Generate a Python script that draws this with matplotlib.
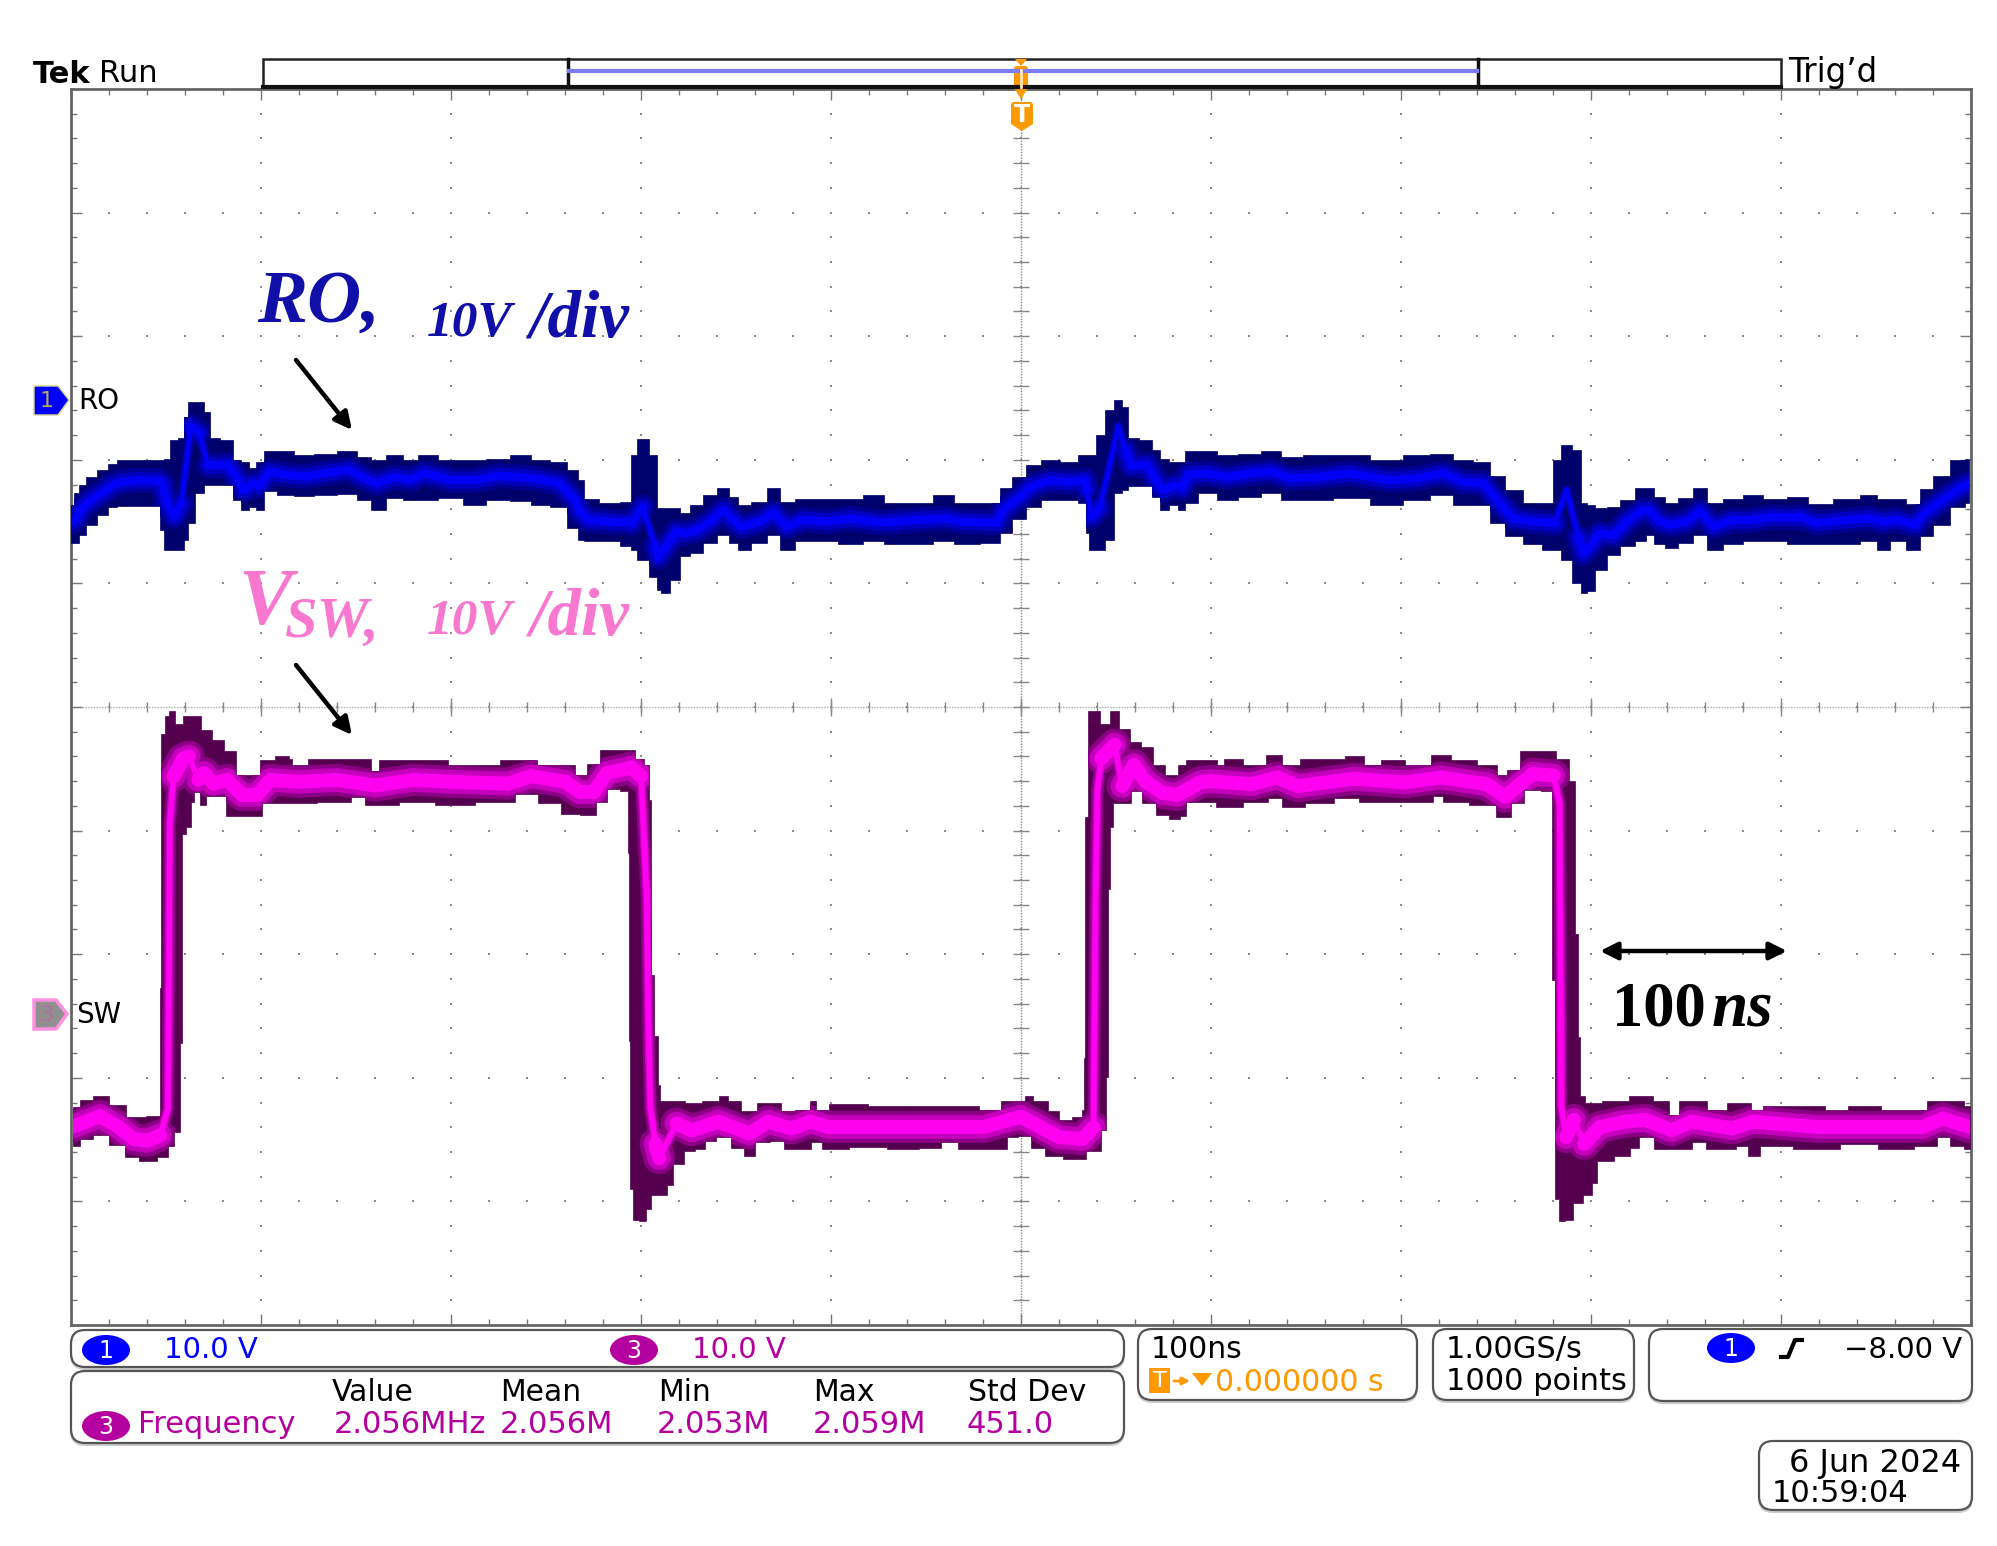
#!/usr/bin/env python
import numpy as np
import matplotlib
matplotlib.use("Agg")
import matplotlib.pyplot as plt
from matplotlib.collections import LineCollection
from matplotlib.patches import FancyBboxPatch, Polygon, Ellipse, Rectangle

# channel 1 (RO) envelope, volts vs ns
ro_t = [-500, -497, -495, -489.5, -483, -478, -474, -465, -454, -452, -450, -445.6, -442, -439.5, -437, -432.5,
        -428, -425.4, -417.5, -412, -409, -404, -401, -395.6, -388, -377, -366.7, -353.5, -345.6, -338.6, -330,
        -321, -314, -300, -287.7, -275.4, -263, -252.6, -243, -234.7, -232, -227.7, -216.3, -205.8, -204.9, -199,
        -192.6, -190.8, -188.2, -181.2, -177.7, -170.7, -163.7, -156.6, -150.5, -147, -137.3, -130.3, -123.3,
        -114.5, -102.2, -90, -76.8, -67, -52.2, -40, -30.3, -12.8, -9.3, -0.5, 5.6, 15.3, 25.8, 33.7, 34.6, 37.2,
        41.6, 46.9, 51.3, 54.8, 58.3, 66.2, 71.4, 75, 81, 84.6, 88.1, 97.8, 108.3, 120.6, 132, 141.6, 155.6, 173.2,
        194.2, 208.3, 222.3, 232.8, 243.4, 250.4, 259.1, 269.6, 279.3, 281, 287.2, 293.3, 296, 299.5, 304.7, 311.8,
        318.8, 327.5, 330.2, 336.3, 341.6, 350.3, 357.4, 364.4, 374.9, 385.4, 396, 410, 418.8, 436.3, 446.8, 453.9,
        460.9, 470.5, 475.8, 483.7, 494.2, 499.1]
ro_top = [-8.65, -7.7, -7.0, -6.4, -5.8, -5.3, -5.0, -5.0, -5.0, -5.0, -4.9, -3.4, -3.25, -1.5, -0.3, -0.3,
          -1.1, -3.25, -3.4, -5.0, -5.15, -5.7, -5.15, -4.3, -4.3, -4.6, -4.5, -4.25, -4.75, -5.0, -4.6,
          -5.0, -4.6, -5.0, -5.0, -4.9, -4.6, -5.0, -5.2, -5.8, -6.6, -8.2, -8.5, -8.4, -4.6, -3.3,
          -4.6, -8.9, -8.9, -8.9, -9.3, -8.65, -7.85, -7.3, -8.0, -8.65, -8.4, -7.3, -8.4,
          -8.2, -8.2, -8.2, -7.85, -8.5, -8.5, -7.85, -8.5, -8.5, -7.3, -6.4, -5.4, -5.0, -5.15, -4.6, -4.6, -4.6,
          -3.0, -0.97, -0.2, -0.7, -3.25, -3.4, -4.2, -4.9, -5.15, -5.15, -4.3, -4.3, -4.6, -4.5, -4.3, -4.75, -4.6, -4.6,
          -5.0, -4.6, -4.5, -5.0, -5.15, -6.35, -7.45, -8.5, -8.5, -5.0, -3.8, -4.2, -8.5, -8.65, -8.9, -8.8,
          -8.25, -7.3, -7.3, -8.0, -8.5, -8.1, -7.3, -8.5, -8.2, -7.85, -8.2, -8.0, -8.55, -8.2, -7.85, -8.2,
          -8.2, -8.55, -7.4, -6.3, -5.05, -4.95]
ro_bot = [-11.75, -11.75, -11.1, -10.3, -9.45, -8.8, -8.75, -8.75, -8.75, -10.7, -12.3, -12.3, -12.3, -11.5, -10.1, -7.7,
          -7.05, -7.05, -7.05, -8.25, -9.05, -8.8, -9.05, -7.55, -7.85, -7.9, -7.85, -7.75, -8.25, -9.05, -8.1,
          -8.25, -8.25, -8.1, -8.65, -8.25, -8.35, -8.65, -8.8, -10.55, -11.5, -11.55, -11.55, -12.0, -12.3, -13.1,
          -14.45, -15.5, -15.8, -14.7, -12.8, -12.55, -11.75, -11.1, -11.75, -12.3, -11.75, -11.1, -12.3,
          -11.55, -11.55, -11.8, -11.55, -11.8, -11.8, -11.55, -11.8, -11.75, -10.95, -9.75, -8.8, -8.25, -8.25, -8.5, -10.95, -12.3,
          -12.3, -11.5, -7.7, -7.45, -7.15, -7.15, -8.0, -9.05, -8.65, -9.05, -8.5, -7.7, -8.25, -8.0, -7.7, -8.25, -8.25, -8.1,
          -8.65, -8.25, -7.85, -8.65, -8.65, -10.15, -11.2, -11.8, -12.3, -12.3, -13.1, -15.0, -15.8, -15.65, -13.9, -12.7,
          -12.0, -11.6, -11.1, -11.8, -12.15, -11.75, -11.1, -12.3, -11.8, -11.55, -11.55, -11.8, -11.8, -11.8, -11.55, -12.3,
          -11.55, -12.3, -11.2, -10.3, -8.8, -8.5]
ro_mid = [-10.1, -9.7, -9.05, -8.25, -7.6, -7.05, -6.8, -6.65, -6.7, -6.9, -8.25, -9.6, -8.5, -5.55, -2.3, -2.85,
          -5.4, -5.4, -5.4, -6.6, -7.45, -6.9, -7.15, -5.95, -6.2, -6.35, -6.1, -5.8, -6.5, -6.9, -6.4,
          -6.6, -6.1, -6.65, -6.65, -6.3, -6.4, -6.6, -6.9, -8.25, -9.2, -9.85, -10.0, -10.0, -10.15, -8.8,
          -12.0, -12.85, -12.3, -10.8, -10.95, -10.7, -10.0, -9.05, -10.0, -10.4, -10.0, -9.3, -10.4,
          -9.85, -10.0, -9.75, -10.0, -10.0, -9.85, -9.75, -10.0, -10.1, -9.05, -8.0, -7.15, -6.65, -6.8, -6.65, -7.45, -9.6,
          -8.8, -5.3, -2.3, -4.2, -5.5, -5.4, -6.75, -7.45, -7.05, -7.3, -6.2, -6.1, -6.4, -6.1, -5.95, -6.5, -6.4, -6.1,
          -6.65, -6.5, -6.1, -6.8, -6.9, -8.25, -9.75, -10.0, -10.1, -10.1, -7.45, -11.2, -12.55, -12.0, -10.95, -11.1,
          -10.0, -9.05, -9.05, -10.0, -10.25, -10.0, -9.2, -10.4, -9.85, -9.85, -9.6, -9.6, -10.1, -9.85, -9.75, -10.0,
          -9.85, -10.25, -9.3, -8.4, -7.3, -6.9]

# channel 3 (SW) envelope, volts vs ns
sw_top_t = [-499.2, -491.7, -484.7, -475.3, -467, -453.6, -453, -451.8, -449.4, -447, -443.5, -438.8, -434.1, -429.4,
            -422.4, -416.5, -409.5, -402.4, -398.9, -386, -384.8, -382.4, -376.6, -374.2, -343.7, -340.2, -335.5,
            -303.7, -299, -275.5, -273.2, -256.7, -253.2, -238, -232, -225, -218, -206.2, -200.3, -196.4, -195.4,
            -194.4, -191.4, -191, -189.4, -179.3, -174.3, -161.2, -157.2, -151.1, -144.1, -134, -128, -124.9, -112.8,
            -109.8, -105.8, -96.7, -64.5, -50.4, -32.3, -12.1, -9.1, 1, 3, 10, 18.1, 22.1, 31.2, 32.6, 33.2, 34.2,
            35.8, 39.2, 44.3, 49.3, 54.3, 60.4, 66.4, 72.5, 79.5, 85.5, 87.7, 102.5, 103.9, 109.3, 124, 133.5, 141.6,
            152.4, 164.5, 176.6, 184.7, 194.1, 210.2, 221, 231.8, 248, 253.3, 258.7, 266.8, 277.6, 285.6, 291, 292.4,
            293.7, 295, 299.1, 312.6, 327.4, 338.1, 343.5, 348.9, 358.4, 363.7, 379.9, 388, 393.4, 420.3, 425.6,
            444.5, 460.7, 474.1, 479.5, 493, 499.5]
sw_top = [-7.35, -6.8, -6.5, -7.2, -8.2, -8.1, 2.3, 22.85, 24.3, 24.7, 23.6, 24.3, 24.3, 23.1,
          22.3, 21.4, 19.5, 19.5, 20.7, 21, 20.76, 20.3, 20.3, 20.76, 20.76, 19.8, 20.7,
          20.7, 20.3, 20.3, 20.7, 20.7, 20.3, 20.3, 19.5, 20.4, 21.5, 21.5, 20.8, 20.3, 17.5,
          3.3, -1.6, -5.6, -6.9, -6.9, -7, -6.9, -6.5, -6.9, -7.7, -7, -7, -7.7, -7.6,
          -6.9, -7.6, -7.15, -7.3, -7.3, -7.3, -7.6, -6.9, -6.9, -6.5, -6.9, -7.7, -8.4, -8.15, -7.6, -3.4, 16.1,
          24.7, 24.7, 23.6, 24.7, 23.2, 22.2, 21.8, 20.3, 19.5, 20.3, 20.7, 20.7, 20.3, 20.8, 20.3, 21.1, 20.3,
          20.8, 20.8, 21, 20.3, 20.7, 20.3, 21.1, 20.7, 20.3, 19.5, 19.9, 21.4, 21.45, 20.8, 19, 6.6,
          -1.7, -6.5, -7, -6.9, -6.5, -6.9, -8, -6.9, -6.9, -7.6, -7, -7.6, -7.25, -7.25, -7.6,
          -7.25, -7.6, -7.6, -6.9, -6.9, -7.25]
sw_bot_t = [-499.2, -491.7, -484.7, -475.3, -468.2, -460, -449.4, -448.2, -443.5, -441.9, -441.2, -437.7, -436.5, -434.1,
            -430.6, -427.1, -421.2, -415.3, -402.4, -396.5, -386, -355.4, -349.6, -341.3, -313.1, -303.7, -270.8,
            -261.4, -247.3, -236.8, -227.4, -220.3, -215.6, -206.9, -206.7, -206, -205.1, -203.5, -198.4, -196.4,
            -193.4, -188.4, -184.3, -182.3, -178.3, -176.3, -167.2, -165.2, -156.1, -149.1, -143, -137, -127, -122.9,
            -111.8, -108.8, -100.8, -80.6, -60.5, -46.4, -38.3, -28.2, -10.1, -5.1, 1.8, 9, 16.1, 28.1, 40.2, 44.3,
            45.3, 45.9, 47.3, 49.3, 56.3, 59.4, 68.4, 73.4, 82.5, 85, 89.1, 99.9, 105.2, 128.1, 132.2, 142.9, 156.4,
            172.6, 183.3, 215.6, 218.3, 226.4, 245.3, 254.7, 261.4, 268.1, 279, 280.3, 281.6, 284.3, 288.3, 292.4,
            299.1, 301.8, 304.5, 319.3, 322, 328.7, 338.1, 348.9, 357, 363.7, 373.1, 379.9, 385.8, 392, 420.3, 441.8,
            460.7, 479.5, 485, 493, 499.5]
sw_bot = [-10.55, -9.95, -9.65, -10.4, -11.4, -11.7, -11.4, -10.55, -9.4, -2.15, 14.75, 15.3, 17.35, 18.1,
          17.05, 17.8, 17.8, 16.2, 16.2, 17.2, 17.2, 17.35, 17.7, 17.05, 17.35, 17.05, 17.35,
          18, 17.2, 16.35, 16.25, 17.35, 18.4, 18.2, 13.15, -2, -14, -16.5, -16.6, -15.65,
          -14.5, -14.5, -13.7, -12, -12, -10.9, -10.8, -10.1, -9.8, -10.65, -11.35, -10.2, -10.1, -10.8,
          -10.8, -10.2, -10.8, -10.6, -10.8, -10.65, -10.2, -10.8, -10.8, -9.8, -9.7, -10.65, -11.35, -11.6, -10.9, -9.25,
          -4.9, 10.25, 15.3, 17.2, 17.2, 18.2, 17.2, 16.25, 15.95, 16.2, 17.35, 17.35, 16.9, 17.35, 17.6, 16.9, 17.2,
          17.6, 17.35, 17.35, 17.8, 17.3, 17.05, 16.1, 17.2, 18.3, 18.2, 2.9, -14.8, -16.6, -16.5, -15.1,
          -14.5, -13.55, -11.75, -11.35, -10.65, -9.8, -10.8, -10.8, -10.2, -10.8, -10.8, -10.5, -11.35, -10.5, -10.8, -10.35,
          -10.8, -10.5, -9.8, -10.5, -10.8]
sw_mid_t = [-499, -484.7, -475.3, -467, -460, -453, -449, -448, -446, -441, -438, -433, -430, -425, -418, -410, -402,
            -395, -380, -360, -340, -320, -300, -270, -258, -240, -232, -225, -218, -205, -200, -197, -196, -195,
            -192.4, -190.4, -181.3, -173.3, -159.2, -143, -133, -121, -110.8, -100.8, -60.5, -20.2, 0, 20, 32.2, 38.2,
            39.2, 40.2, 42.3, 49.3, 53.3, 59.4, 65.4, 74.4, 82.5, 94.2, 99.9, 121.4, 134.9, 145.6, 175.2, 202.2, 221,
            245.3, 254.7, 269.5, 280.3, 283.5, 284.3, 287, 291, 296.4, 304.5, 318, 328.7, 342.2, 353, 374.5, 385.3,
            420.3, 444.5, 474.1, 485, 499.7]
sw_mid = [-8.95, -8.1, -8.95, -9.95, -10.1, -9.65, -7.5, 15.6, 19.4, 20.8, 21, 19.1, 19.65, 18.8, 19.1, 17.9, 17.9,
          19.1, 18.95, 19.1, 18.65, 19.1, 18.95, 18.8, 19.4, 18.95, 18.1, 18.1, 19.65, 20.1, 19.4, 9.8, -1.7, -7.5,
          -10.35, -11.5, -8.7, -9.25, -8.55, -9.5, -8.55, -9.1, -8.55, -9, -9, -9, -8.15, -9.8, -9.95, -9,
          8.85, 18.3, 20.85, 21.95, 18.6, 20.3, 19, 18.05, 17.9, 18.9, 19, 18.75, 19.3, 18.6, 19.2, 18.9, 19.3,
          18.75, 17.75, 19.6, 19.45, 17.2, -7.3, -9.8, -8.4, -10.35, -9, -8.55, -8.4, -9.25, -8.55, -9.1, -8.55,
          -9, -9, -9, -8.3, -9]

ro_offset = 2.5   # divisions
sw_offset = -2.5
volts_per_div = 10.0

freq_head = ["Value", "Mean", "Min", "Max", "Std Dev"]
freq_vals = ["2.056MHz", "2.056M", "2.053M", "2.059M", "451.0"]

W, H = 1997, 1546
fig = plt.figure(figsize=(W / 100, H / 100), dpi=100, facecolor="white")

# main graticule axes: ns across, divisions up
ax = fig.add_axes([71 / W, 1 - 1325 / H, 1900 / W, 1236 / H])
ax.set_xlim(-500, 500)
ax.set_ylim(-5, 5)
ax.set_xticks(np.arange(-500, 501, 100))
ax.set_xticks(np.arange(-500, 501, 20), minor=True)
ax.set_yticks(np.arange(-5, 6, 1))
ax.set_yticks(np.arange(-5, 5.01, 0.2), minor=True)
ax.tick_params(which="major", direction="in", length=8, width=1, color="#777777",
               top=True, right=True, labelbottom=False, labelleft=False)
ax.tick_params(which="minor", direction="in", length=4, width=1, color="#777777", top=True, right=True)
for s in ax.spines.values():
    s.set_color("#666666")
    s.set_linewidth(2)

dot = dict(ls="none", marker="s", ms=2.0, mew=0, color="#888888", zorder=1)
for yy in np.arange(-4, 5):
    xs = np.arange(-480, 500, 20)
    ax.plot(xs, np.full(xs.shape, yy), **dot)
for xx in np.arange(-400, 500, 100):
    ys = np.arange(-4.8, 5, 0.2)
    ax.plot(np.full(ys.shape, xx), ys, **dot)

# centre cross
ax.axhline(0, color="#aaaaaa", lw=1, ls=(0, (1, 1)), zorder=1)
ax.axvline(0, color="#888888", lw=1, ls=(0, (1, 1)), zorder=1)
xs = np.arange(-480, 500, 20)
ax.plot(xs, np.zeros(xs.shape), ls="none", marker="|", ms=7, mew=1, color="#888888", zorder=1)
xs = np.arange(-400, 500, 100)
ax.plot(xs, np.zeros(xs.shape), ls="none", marker="|", ms=13, mew=1, color="#888888", zorder=1)
ys = np.arange(-4.8, 5, 0.2)
ax.plot(np.zeros(ys.shape), ys, ls="none", marker="_", ms=11, mew=1, color="#888888", zorder=1)


def steps(t, v):
    # plateaus between the read points, the scope's envelope is blocky
    t = np.asarray(t, dtype=float)
    v = np.asarray(v, dtype=float)
    edges = np.r_[t[0], (t[:-1] + t[1:]) / 2, t[-1]]
    return np.repeat(edges, 2)[1:-1], np.repeat(v, 2)


def draw_trace(t_top, top, t_bot, bot, t_mid, mid, offset, shades, flat_lw, steep_lw):
    top_div = np.array(top) / volts_per_div + offset
    bot_div = np.array(bot) / volts_per_div + offset
    mid_div = np.array(mid) / volts_per_div + offset
    tx, ty = steps(t_top, top_div)
    bx, by = steps(t_bot, bot_div)
    poly = Polygon(np.c_[np.r_[tx, bx[::-1]], np.r_[ty, by[::-1]]], closed=True,
                   fc=shades[0], ec=shades[0], lw=0.5, zorder=3)
    ax.add_patch(poly)
    # fast edges are much thinner than the persistence on the flat parts
    t_mid = np.asarray(t_mid, dtype=float)
    pts = np.c_[t_mid, mid_div]
    segs = np.stack([pts[:-1], pts[1:]], axis=1)
    dx = np.abs(np.diff(t_mid)) * 1.9
    dy = np.abs(np.diff(mid_div)) * 123.6
    steep = (dy > 2 * dx) & (dy > 20)
    for i, shade in enumerate(shades[1:]):
        widths = np.where(steep, steep_lw[i], flat_lw[i])
        lc = LineCollection(segs, colors=shade, linewidths=widths, capstyle="round", zorder=4 + i)
        ax.add_collection(lc)
        lc.set_clip_path(poly)


draw_trace(ro_t, ro_top, ro_t, ro_bot, ro_t, ro_mid, ro_offset,
           ["#00006c", "#000090", "#0000c0", "#0000f4"], [18, 12, 6], [7, 5, 3])
draw_trace(sw_top_t, sw_top, sw_bot_t, sw_bot, sw_mid_t, sw_mid, sw_offset,
           ["#54004f", "#8a0084", "#c400bc", "#ff00f0"], [23, 17, 10], [9, 6, 4])

# everything around the graticule, in picture pixels
ov = fig.add_axes([0, 0, 1, 1], facecolor="none")
ov.set_xlim(0, W)
ov.set_ylim(H, 0)
ov.axis("off")

BLUE = "#0000ff"
MAG = "#b4009e"
ORG = "#ff9900"


def txt(x, y, s, size=22, color="black", **kw):
    ov.text(x, y, s, fontsize=size, color=color, ha=kw.pop("ha", "left"), va="baseline", **kw)


def box(x0, y0, x1, y1):
    ov.add_patch(FancyBboxPatch((x0, y0 + 2), x1 - x0, y1 - y0, boxstyle="round,pad=0,rounding_size=14",
                                fc="none", ec="#cccccc", lw=1.5))
    ov.add_patch(FancyBboxPatch((x0, y0), x1 - x0, y1 - y0, boxstyle="round,pad=0,rounding_size=14",
                                fc="white", ec="#555555", lw=1.6))


def badge(cx, cy, s, color):
    ov.add_patch(Ellipse((cx, cy), 48, 30, fc=color, ec="none"))
    ov.text(cx, cy + 1, s, color="white", fontsize=17, ha="center", va="center")


# record bar
ov.add_patch(Rectangle((263, 59), 1518, 27, fc="white", ec="#222222", lw=1.8))
ov.plot([263, 1781], [87, 87], color="#111111", lw=3)
ov.plot([568, 568], [59, 87], color="#111111", lw=2.5)
ov.plot([1478, 1478], [59, 87], color="#111111", lw=2.5)
ov.plot([569, 1477], [71, 71], color="#7c7cf4", lw=3)
txt(33, 83, "Tek", size=22, fontweight="bold")
txt(99, 82, "Run", size=22)
txt(1788, 82, "Trig\u2019d", size=23.5)

# trigger markers
ov.add_patch(Polygon([(1015, 59), (1027, 59), (1021, 66)], fc=ORG))
ov.add_patch(FancyBboxPatch((1014, 66), 14, 22, boxstyle="round,pad=0,rounding_size=3", fc=ORG, ec="none"))
ov.plot([1021, 1021], [70, 87], color="#ffe6b8", lw=2)
ov.add_patch(Polygon([(1014, 88), (1028, 88), (1021, 99)], fc=ORG))
ov.add_patch(Polygon([(1011, 104), (1013, 102), (1031, 102), (1033, 104), (1033, 124), (1022, 131), (1011, 124)],
                     fc=ORG))
ov.text(1022, 115, "T", color="white", fontsize=17, fontweight="bold", ha="center", va="center")

# channel markers
ov.add_patch(Polygon([(34, 386), (58, 386), (69, 400), (58, 415), (34, 415)], fc=BLUE, ec="#d8d890", lw=1))
ov.text(47, 401, "1", color="#b8a850", fontsize=16, ha="center", va="center")
txt(78, 409, "RO", size=20)
ov.add_patch(Polygon([(34, 1000), (56, 1000), (67, 1014), (56, 1029), (34, 1029)], fc="#909090", ec="#ff90e0", lw=2.5))
ov.text(46, 1015, "3", color="#b070a0", fontsize=16, ha="center", va="center")
txt(76, 1023, "SW", size=20)

# readout boxes
box(71, 1330, 1124, 1367)
box(71, 1371, 1124, 1443)
box(1138, 1329, 1417, 1400)
box(1433, 1329, 1634, 1400)
box(1649, 1329, 1972, 1401)
box(1759, 1441, 1972, 1510)

badge(106, 1350, "1", BLUE)
txt(164, 1358, "10.0 V", size=21, color=BLUE)
badge(634, 1350, "3", MAG)
txt(692, 1358, "10.0 V", size=21, color=MAG)

head_x = [332, 500, 658, 813, 968]
val_x = [334, 500, 657, 813, 967]
for x, s in zip(head_x, freq_head):
    txt(x, 1401, s, size=21.5)
for x, s in zip(val_x, freq_vals):
    txt(x, 1433, s, color=MAG)
badge(106, 1426, "3", MAG)
txt(138, 1433, "Frequency", color=MAG)

txt(1151, 1358, "100ns", size=21.5)
ov.add_patch(Rectangle((1149, 1368), 21, 25, fc=ORG, ec="none"))
ov.text(1159.5, 1381, "T", color="white", fontsize=16, ha="center", va="center")
ov.annotate("", xy=(1190, 1381), xytext=(1174, 1381),
            arrowprops=dict(arrowstyle="-|>", color=ORG, lw=2, mutation_scale=11, shrinkA=0, shrinkB=0))
ov.add_patch(Polygon([(1192, 1373), (1212, 1373), (1202, 1386)], fc=ORG))
txt(1215, 1391, "0.000000 s", size=21.5, color=ORG)
txt(1446, 1358, "1.00GS/s")
txt(1446, 1390, "1000 points")
badge(1731, 1348, "1", BLUE)
ov.plot([1781, 1788, 1795, 1802], [1357, 1357, 1340, 1340], color="black", lw=3)
txt(1844, 1358, "\u22128.00 V", size=21)
txt(1789, 1472, "6 Jun 2024", size=23)
txt(1772, 1502, "10:59:04")

# hand-added labels on top of the scope shot
SERIF = "Liberation Serif"
NAVY = "#1010a8"
PINK = "#f878d0"
bi = dict(family=SERIF, fontweight="bold", fontstyle="italic")
txt(257, 322, "RO,", size=54, color=NAVY, **bi)
txt(427, 336, "10V", size=37, color=NAVY, **bi)
txt(529, 336, "/div", size=48, color=NAVY, **bi)
txt(238, 624, "V", size=58, color=PINK, **bi)
txt(285, 637, "SW,", size=42, color=PINK, **bi)
txt(427, 634, "10V", size=37, color=PINK, **bi)
txt(529, 634, "/div", size=48, color=PINK, **bi)
txt(1612, 1025, "100", size=45, family=SERIF, fontweight="bold")
txt(1712, 1025, "ns", size=47, **bi)

arrow = dict(arrowstyle="-|>", color="black", lw=3.2, mutation_scale=26, shrinkA=0, shrinkB=0)
ov.annotate("", xy=(352, 430), xytext=(296, 360), arrowprops=arrow)
ov.annotate("", xy=(352, 735), xytext=(296, 665), arrowprops=arrow)
ov.annotate("", xy=(1787, 951), xytext=(1600, 951),
            arrowprops=dict(arrowstyle="<|-|>", color="black", lw=3.2, mutation_scale=26, shrinkA=0, shrinkB=0))

fig.savefig("out.png", dpi=100, facecolor="white")
